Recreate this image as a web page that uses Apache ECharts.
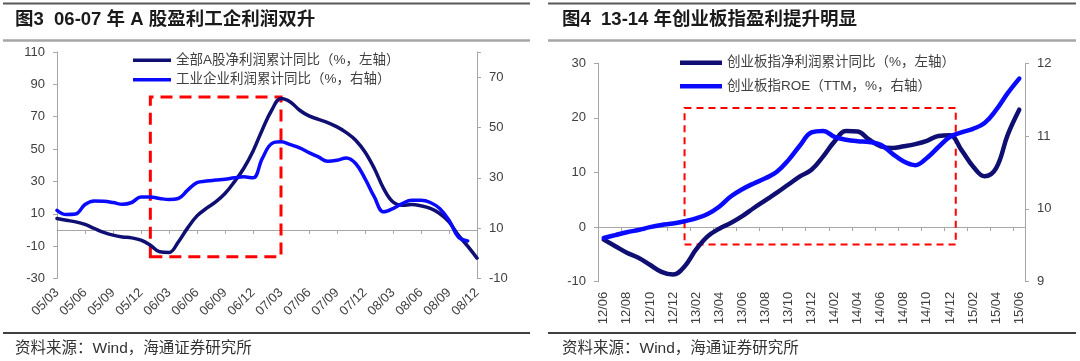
<!DOCTYPE html>
<html><head><meta charset="utf-8">
<script src="https://cdn.jsdelivr.net/npm/echarts@6/dist/echarts.min.js"></script>
<style>html,body{margin:0;padding:0;background:#fff;}#c{width:1080px;height:361px;}</style>
</head><body><div id="c"></div>
<script>
// ---------- data ----------
const titleLeft = '图3  06-07 年 A 股盈利工企利润双升';
const titleRight = '图4  13-14 年创业板指盈利提升明显';
const sourceText = '资料来源：Wind，海通证券研究所';

const leftCats = ['05/03','05/04','05/05','05/06','05/07','05/08','05/09','05/10','05/11','05/12',
  '06/01','06/02','06/03','06/04','06/05','06/06','06/07','06/08','06/09','06/10','06/11','06/12',
  '07/01','07/02','07/03','07/04','07/05','07/06','07/07','07/08','07/09','07/10','07/11','07/12',
  '08/01','08/02','08/03','08/04','08/05','08/06','08/07','08/08','08/09','08/10','08/11','08/12'];
const leftNames = ['全部A股净利润累计同比（%，左轴）', '工业企业利润累计同比（%，右轴）'];
const leftProfitA = [7.1,6.0,5.0,3.4,0.9,-1.5,-3.2,-4.3,-4.9,-6.3,
  -9.4,-13.5,-13.9,-7.4,1.3,8.7,13.3,17.3,22.5,29.7,38.0,48.7,
  62.0,74.0,81.2,79.1,74.0,70.5,68.4,66.4,63.7,60.2,55.5,48.2,
  38.0,25.6,17.3,15.3,15.7,14.9,13.3,10.2,5.0,-3.2,-10.0,-17.4];
const leftIndustrial = [17.1,15.4,15.6,19.4,20.8,20.7,20.2,19.5,20.2,22.4,
  22.4,21.8,21.4,21.8,25.1,28.1,28.7,29.1,29.4,30.0,30.4,30.0,
  37.7,43.6,44.3,43.2,41.9,40.0,38.3,36.6,37.0,37.9,35.7,29.7,
  22.4,16.5,17.8,19.8,21.1,21.1,20.2,17.8,13.2,6.5,4.9,null];
const leftAxisL = [-30, 110, 20];
const leftAxisR = [-10, 80, 20];
const leftBox = ['06/01', '07/03', -16.6, 82.2];

const rightCats = ['12/06','12/07','12/08','12/09','12/10','12/11','12/12',
  '13/01','13/02','13/03','13/04','13/05','13/06','13/07','13/08','13/09','13/10','13/11','13/12',
  '14/01','14/02','14/03','14/04','14/05','14/06','14/07','14/08','14/09','14/10','14/11','14/12',
  '15/01','15/02','15/03','15/04','15/05','15/06'];
const rightNames = ['创业板指净利润累计同比（%，左轴）', '创业板指ROE（TTM，%，右轴）'];
const rightProfit = [-2.3,-3.5,-4.7,-5.6,-6.9,-8.2,-8.7,
  -7.2,-4.1,-1.7,-0.3,0.75,2.0,3.5,4.9,6.3,7.8,9.3,10.5,
  12.9,15.7,17.6,17.5,16.0,14.8,14.5,14.8,15.2,15.8,16.7,16.8,
  14.1,11.1,9.3,10.8,16.9,21.5];
const rightROE = [9.60,9.64,9.68,9.71,9.75,9.78,9.80,
  9.83,9.87,9.93,10.03,10.17,10.27,10.35,10.42,10.51,10.67,10.87,11.05,
  11.07,10.99,10.95,10.93,10.92,10.88,10.76,10.65,10.60,10.70,10.85,10.99,
  11.05,11.10,11.18,11.36,11.59,11.79];
const rightAxisL = [-10, 30, 10];
const rightAxisR = [9, 12, 1];
const rightBox = [7, 30.5, -3.2, 21.8];

// ---------- styles ----------
const FONT = "'Liberation Sans','Noto Sans CJK SC',sans-serif";
const TXT = '#404040';
const AX = '#a6a6a6';
const NAVY = '#0f0f73';
const BLUE = '#0a0aff';
const RED = '#ff0000';

function hline(x1, x2, y, color, w) {
  return {type:'line', silent:true, shape:{x1:x1, y1:y, x2:x2, y2:y}, style:{stroke:color, lineWidth:w}};
}
function yAx(grid, pos, ax, hideMax) {
  return {
    type:'value', gridIndex:grid, position:pos, min:ax[0], max:ax[1], interval:ax[2],
    axisLine:{show:true, onZero:false, lineStyle:{color:AX, width:1}},
    axisTick:{show:true, length:4, inside:false, lineStyle:{color:AX}},
    splitLine:{show:false},
    axisLabel:{margin:12, fontSize:13, color:TXT, fontFamily:FONT,
      formatter: function(v){ return (hideMax && v === ax[1]) ? '' : String(v); }}
  };
}
function lineSeries(name, xi, yi, data, color, w) {
  return {name:name, type:'line', xAxisIndex:xi, yAxisIndex:yi, data:data, smooth:0.4,
    symbol:'none', showSymbol:false, connectNulls:false, z:3,
    lineStyle:{color:color, width:w, cap:'round', join:'round'}, itemStyle:{color:color}};
}
function legend(names, left, top, w, h, gap) {
  return {orient:'vertical', left:left, top:top, padding:0, itemWidth:w, itemHeight:h, itemGap:gap,
    icon:'rect', selectedMode:false, data:names,
    textStyle:{fontSize:13.5, color:TXT, fontFamily:FONT}};
}

const option = {
  animation:false,
  backgroundColor:'#ffffff',
  textStyle:{fontFamily:FONT},
  title:[
    {text:titleLeft, left:15, top:10.5, padding:0, textStyle:{fontSize:18.5, fontWeight:'bold', color:'#1a1a1a', fontFamily:FONT}},
    {text:titleRight, left:562, top:10.5, padding:0, textStyle:{fontSize:18.5, fontWeight:'bold', color:'#1a1a1a', fontFamily:FONT}},
    {text:sourceText, left:15, top:340.5, padding:0, textStyle:{fontSize:15.5, fontWeight:'normal', color:'#333', fontFamily:FONT}},
    {text:sourceText, left:562, top:340.5, padding:0, textStyle:{fontSize:15.5, fontWeight:'normal', color:'#333', fontFamily:FONT}}
  ],
  graphic:[
    hline(3, 530, 3.5, '#595959', 2),
    hline(3, 530, 40.5, '#a6a6a6', 2.5),
    hline(3, 530, 333, '#404040', 2),
    hline(548, 1076, 3.5, '#595959', 2),
    hline(548, 1076, 40.5, '#a6a6a6', 2.5),
    hline(548, 1076, 333, '#404040', 2)
  ],
  grid:[
    {left:57, top:52, width:420, height:226.5, outerBoundsMode:'none', containLabel:false},
    {left:598, top:63.3, width:427, height:218.4, outerBoundsMode:'none', containLabel:false}
  ],
  legend:[
    legend(leftNames, 133, 53.5, 38, 3.5, 6),
    legend(rightNames, 680, 56, 42, 4.5, 10)
  ],
  xAxis:[
    {type:'category', gridIndex:0, data:leftCats, boundaryGap:false,
      axisLine:{show:true, onZero:true, onZeroAxisIndex:0, lineStyle:{color:AX, width:1}},
      axisTick:{show:true, interval:2, length:4, lineStyle:{color:AX}},
      axisLabel:{interval:2, rotate:45, margin:12, fontSize:13, color:TXT, fontFamily:FONT},
      splitLine:{show:false}},
    {type:'category', gridIndex:1, data:rightCats, boundaryGap:true,
      axisLine:{show:true, onZero:true, onZeroAxisIndex:2, lineStyle:{color:AX, width:1}},
      axisTick:{show:true, interval:1, length:4, lineStyle:{color:AX}},
      axisLabel:{interval:1, rotate:90, margin:10, fontSize:13, color:TXT, fontFamily:FONT},
      splitLine:{show:false}},
    {type:'value', gridIndex:1, min:-0.5, max:36.5, show:false,
      axisLine:{onZero:false}, splitLine:{show:false}}
  ],
  yAxis:[
    yAx(0, 'left', leftAxisL, false),
    yAx(0, 'right', leftAxisR, true),
    yAx(1, 'left', rightAxisL, false),
    yAx(1, 'right', rightAxisR, false)
  ],
  series:[
    lineSeries(leftNames[0], 0, 0, leftProfitA, NAVY, 3.5),
    lineSeries(leftNames[1], 0, 1, leftIndustrial, BLUE, 3.5),
    lineSeries(rightNames[0], 1, 2, rightProfit, NAVY, 4.5),
    lineSeries(rightNames[1], 1, 3, rightROE, BLUE, 4.5),
    {type:'line', xAxisIndex:0, yAxisIndex:0, data:[], z:6,
      markArea:{silent:true, label:{show:false},
        itemStyle:{color:'rgba(0,0,0,0)', borderColor:RED, borderWidth:3, borderType:[12,7]},
        data:[[{xAxis:leftBox[0], yAxis:leftBox[2]}, {xAxis:leftBox[1], yAxis:leftBox[3]}]]}},
    {type:'line', xAxisIndex:2, yAxisIndex:2, data:[], z:6,
      markArea:{silent:true, label:{show:false},
        itemStyle:{color:'rgba(0,0,0,0)', borderColor:RED, borderWidth:2, borderType:[7,5]},
        data:[[{xAxis:rightBox[0], yAxis:rightBox[2]}, {xAxis:rightBox[1], yAxis:rightBox[3]}]]}}
  ]
};
const chart = echarts.init(document.getElementById('c'), null, {renderer:'canvas'});
chart.setOption(option);
</script>
</body></html>
